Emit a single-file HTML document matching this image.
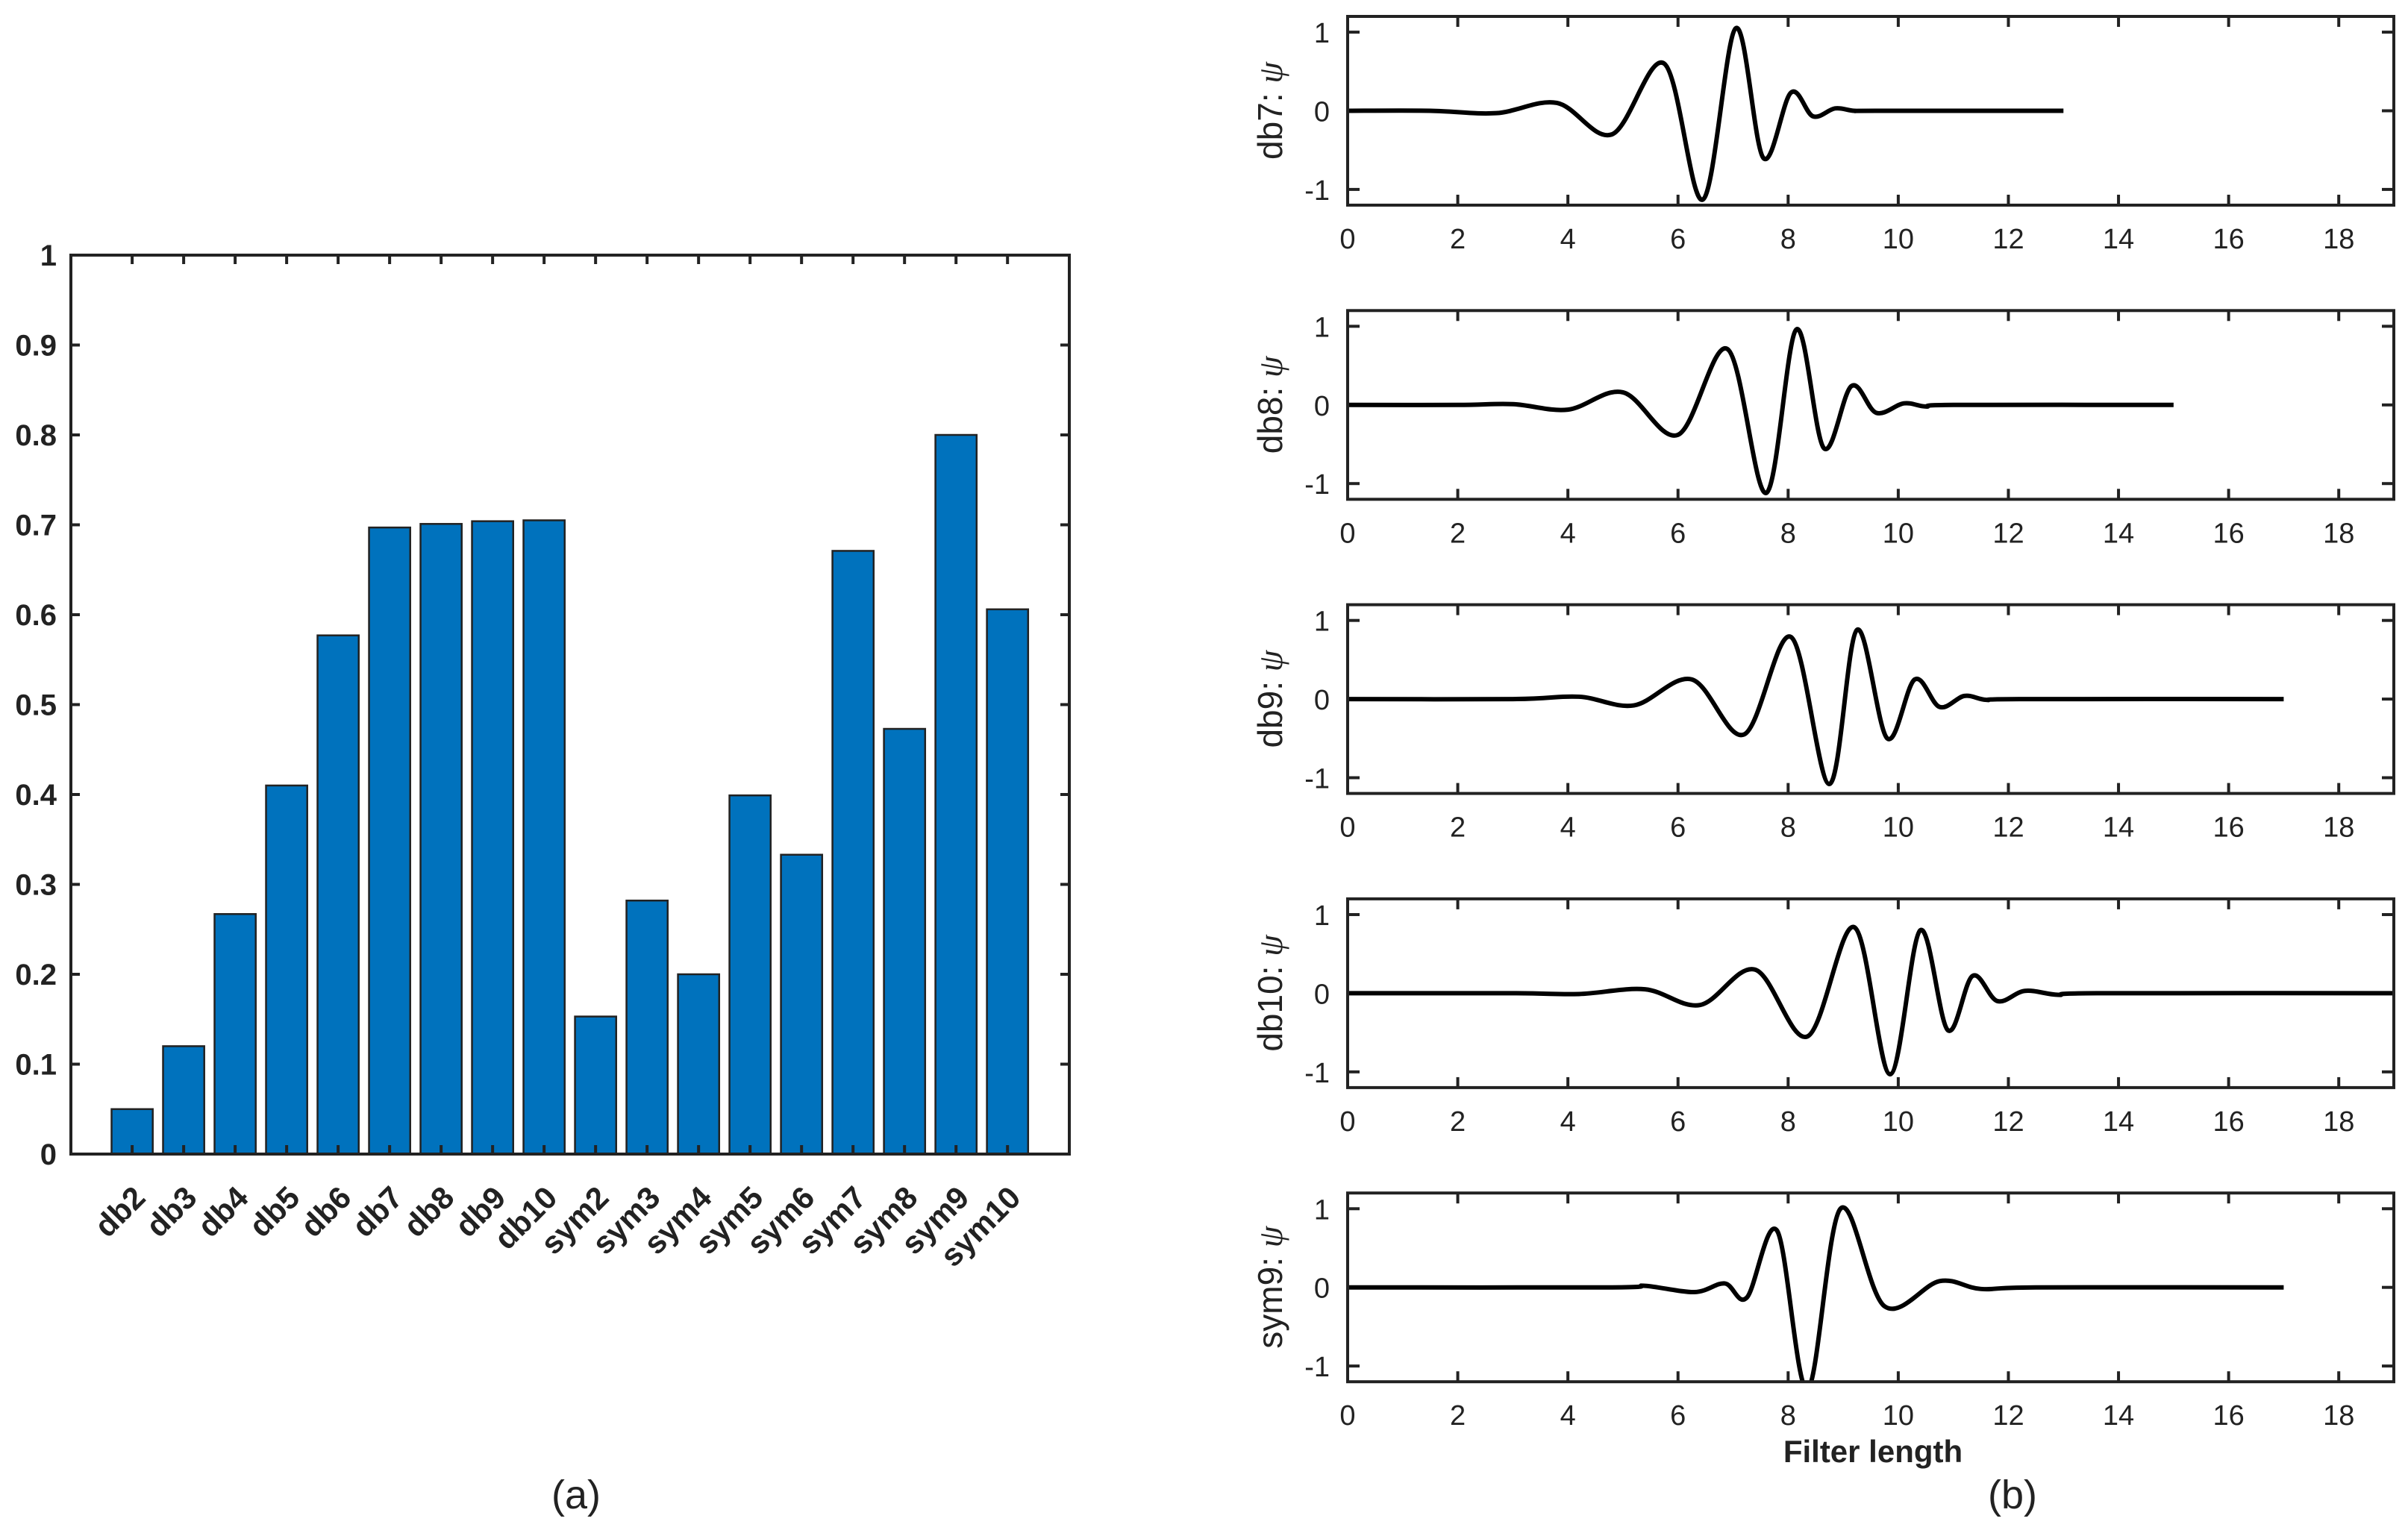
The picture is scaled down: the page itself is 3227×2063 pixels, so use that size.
<!DOCTYPE html>
<html><head><meta charset="utf-8"><style>
html,body{margin:0;padding:0;background:#fff;}
svg{display:block;}
text{font-family:"Liberation Sans",sans-serif;fill:#222;}
</style></head><body>
<svg id="fig" width="3227" height="2063" viewBox="0 0 3227 2063" xmlns="http://www.w3.org/2000/svg">
<g id="barChart"></g>
<g id="wavelets"></g>
<text x="772" y="2022" font-size="54" text-anchor="middle">(a)</text>
<text x="2697" y="2022" font-size="54" text-anchor="middle">(b)</text>
<text x="2510" y="1960" font-size="42" font-weight="bold" text-anchor="middle">Filter length</text>
</svg>
<script>
const NS="http://www.w3.org/2000/svg";
// ---- bar chart data ----
const barCategories=["db2","db3","db4","db5","db6","db7","db8","db9","db10","sym2","sym3","sym4","sym5","sym6","sym7","sym8","sym9","sym10"];
const barValues=[0.05,0.12,0.267,0.41,0.577,0.697,0.701,0.704,0.705,0.153,0.282,0.2,0.399,0.333,0.671,0.473,0.80,0.606];
const barYTicks=[0,0.1,0.2,0.3,0.4,0.5,0.6,0.7,0.8,0.9,1];
const barYTickLabels=["0","0.1","0.2","0.3","0.4","0.5","0.6","0.7","0.8","0.9","1"];
// ---- wavelet data (x, psi) ----
const waveNames=["db7","db8","db9","db10","sym9"];
const db7X=[0,1.5,2.7,3.8,4.8,5.75,6.45,7.05,7.55,8.05,8.45,8.85,9.2,9.6,13];
const db7Y=[0,0,-0.03,0.1,-0.3,0.6,-1.13,1.05,-0.6,0.23,-0.07,0.03,0,0,0];
const db8X=[0,2,3,4,5,6,6.9,7.6,8.15,8.65,9.15,9.6,10.1,10.5,11,15];
const db8Y=[0,0,0.01,-0.06,0.16,-0.38,0.71,-1.12,0.96,-0.55,0.24,-0.1,0.02,-0.02,0,0];
const db9X=[0,3,4.2,5.2,6.25,7.2,8.05,8.75,9.25,9.8,10.3,10.75,11.2,11.6,12.2,17];
const db9Y=[0,0,0.03,-0.08,0.25,-0.45,0.79,-1.08,0.88,-0.5,0.25,-0.1,0.04,-0.01,0,0];
const db10X=[0,3,4.2,5.4,6.4,7.4,8.35,9.2,9.85,10.4,10.9,11.35,11.8,12.3,12.9,13.6,19];
const db10Y=[0,0,-0.01,0.05,-0.15,0.3,-0.55,0.84,-1.03,0.8,-0.47,0.22,-0.1,0.03,-0.02,0,0];
const sym9X=[0,4.8,5.4,6.3,6.85,7.25,7.8,8.35,8.95,9.75,10.75,11.5,12.5,17];
const sym9Y=[0,0,0.02,-0.06,0.05,-0.13,0.72,-1.3,1.0,-0.24,0.08,-0.02,0,0];
const waveXs=[db7X,db8X,db9X,db10X,sym9X];
const waveYs=[db7Y,db8Y,db9Y,db10Y,sym9Y];
const waveXTicks=[0,2,4,6,8,10,12,14,16,18];
const waveYTicks=[-1,0,1];

function mk(tag,attrs,parent){const e=document.createElementNS(NS,tag);for(const k in attrs)e.setAttribute(k,attrs[k]);parent.appendChild(e);return e;}

// ---- bar chart ----
(function(){
  const g=document.getElementById('barChart');
  const L=95,R=1433,T=342,B=1547,x0=-0.19,x1=19.2;
  const sx=v=>L+(v-x0)/(x1-x0)*(R-L);
  const sy=v=>B-v*(B-T);
  const bw=0.8*(R-L)/(x1-x0);
  barCategories.forEach((c,i)=>{
    const cx=sx(i+1);
    const r=mk('rect',{x:cx-bw/2,y:sy(barValues[i]),width:bw,height:sy(0)-sy(barValues[i]),fill:'#0072BD',stroke:'#222','stroke-width':2.5},g);
    
    
    const t=mk('text',{x:cx+20,y:1608,'font-size':42,'font-weight':'bold','text-anchor':'end',transform:`rotate(-45 ${cx+20} 1608)`},g);
    t.textContent=c;
    
    
    mk('line',{x1:cx,x2:cx,y1:B,y2:B-12,stroke:'#222','stroke-width':4},g);
    mk('line',{x1:cx,x2:cx,y1:T,y2:T+12,stroke:'#222','stroke-width':4},g);
  });
  barYTicks.forEach((v,i)=>{
    const y=sy(v);
    mk('line',{x1:L,x2:L+12,y1:y,y2:y,stroke:'#222','stroke-width':4},g);
    mk('line',{x1:R,x2:R-12,y1:y,y2:y,stroke:'#222','stroke-width':4},g);
    const t=mk('text',{x:76,y:y+14,'font-size':40,'font-weight':'bold','text-anchor':'end'},g);
    t.textContent=barYTickLabels[i];
    
    
  });
  const f=mk('rect',{x:L,y:T,width:R-L,height:B-T,fill:'none',stroke:'#222','stroke-width':4},g);
  
  
})();

// ---- wavelet panels ----
function smoothPath(pts){
  let d=`M${pts[0][0]},${pts[0][1]}`;
  for(let i=0;i<pts.length-1;i++){
    const p0=pts[Math.max(0,i-1)],p1=pts[i],p2=pts[i+1],p3=pts[Math.min(pts.length-1,i+2)];
    const c1x=p1[0]+(p2[0]-p0[0])/6,c1y=p1[1]+(p2[1]-p0[1])/6;
    const c2x=p2[0]-(p3[0]-p1[0])/6,c2y=p2[1]-(p3[1]-p1[1])/6;
    d+=` C${c1x},${c1y} ${c2x},${c2y} ${p2[0]},${p2[1]}`;
  }
  return d;
}
(function(){
  const g=document.getElementById('wavelets');
  const L=1806,R=3208,H=253;
  waveNames.forEach((name,k)=>{
    const T=22+k*394.3,B=T+H;
    const sx=v=>L+v/19*(R-L);
    const sy=v=>(T+B)/2-v/1.2*(H/2);
    const pg=mk('g',{},g);
    
    
    const cp=mk('clipPath',{id:'clip'+k},pg);
    mk('rect',{x:L,y:T,width:R-L,height:H},cp);
    waveXTicks.forEach(v=>{
      const x=sx(v);
      mk('line',{x1:x,x2:x,y1:B,y2:B-14,stroke:'#222','stroke-width':4},pg);
      mk('line',{x1:x,x2:x,y1:T,y2:T+14,stroke:'#222','stroke-width':4},pg);
      const t=mk('text',{x:x,y:B+58,'font-size':38,'text-anchor':'middle'},pg);
      t.textContent=String(v);
      
      
    });
    waveYTicks.forEach(v=>{
      const y=sy(v);
      mk('line',{x1:L,x2:L+16,y1:y,y2:y,stroke:'#222','stroke-width':4},pg);
      mk('line',{x1:R,x2:R-16,y1:y,y2:y,stroke:'#222','stroke-width':4},pg);
      const t=mk('text',{x:1782,y:y+14,'font-size':38,'text-anchor':'end'},pg);
      t.textContent=v<0?'-'+Math.abs(v):String(v);
      
      
    });
    const pts=waveXs[k].map((x,i)=>[sx(x),sy(waveYs[k][i])]);
    const p=mk('path',{d:smoothPath(pts),fill:'none',stroke:'#000','stroke-width':6,'stroke-linejoin':'round','clip-path':`url(#clip${k})`},pg);
    
    
    const fr=mk('rect',{x:L,y:T,width:R-L,height:H,fill:'none',stroke:'#222','stroke-width':4},pg);
    
    
    const cy=(T+B)/2;
    const yt=mk('text',{x:1718,y:cy,'font-size':46,'text-anchor':'middle',transform:`rotate(-90 1718 ${cy})`},pg);
    
    
    yt.appendChild(document.createTextNode(name+': '));
    const ps=mk('tspan',{'font-family':'Liberation Serif, serif','font-style':'italic'},yt);
    ps.textContent='ψ';
  });
})();
</script>
</body></html>
